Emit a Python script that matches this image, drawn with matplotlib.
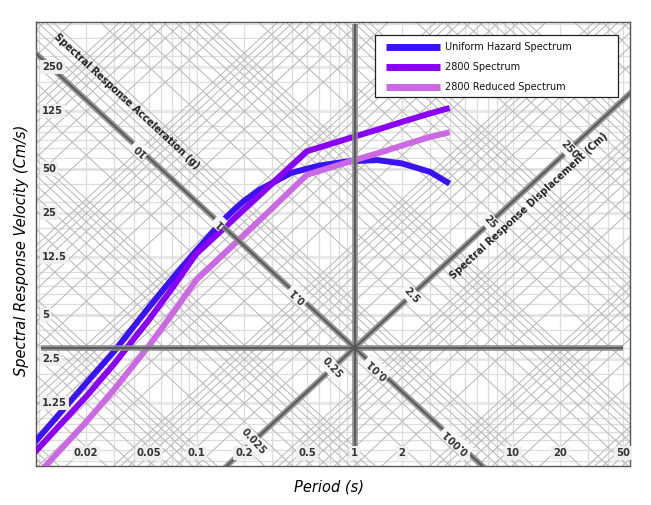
import numpy as np
import matplotlib.pyplot as plt
from matplotlib.patches import Rectangle

# spectra: period (s), spectral velocity (cm/s)
period = [0.0095, 0.02, 0.03, 0.05, 0.07, 0.1, 0.2, 0.3, 0.4, 0.5, 0.7, 1.0, 1.5, 2.0, 3.0, 4.0]
vel_2800 = [0.58, 1.39, 2.32, 4.67, 7.66, 13.3, 26.7, 40.0, 53.4, 66.7, 74.6, 84.0, 96.0, 106.0, 121.0, 132.0]
vel_2800_red = [0.39, 0.93, 1.55, 3.1, 5.1, 8.8, 17.8, 27.0, 36.5, 46.0, 51.5, 58.0, 66.0, 73.0, 83.5, 90.0]

period_uhs = [0.0095, 0.02, 0.03, 0.05, 0.07, 0.1, 0.15, 0.18, 0.2, 0.25, 0.3, 0.4, 0.6, 0.9, 1.4, 2.0, 3.0, 4.0]
vel_uhs = [0.68, 1.72, 2.83, 5.7, 8.9, 14.0, 22.9, 27.6, 30.5, 36.3, 40.3, 47.5, 53.2, 56.8, 58.0, 55.0, 48.2, 40.0]

series = ['Uniform Hazard Spectrum', '2800 Spectrum', '2800 Reduced Spectrum']
colors = ['#3b12f5', '#8a00f7', '#cb68e3']

x_ticks = [0.02, 0.05, 0.1, 0.2, 0.5, 1, 2, 5, 10, 20, 50]
x_tick_labels = ['0.02', '0.05', '0.1', '0.2', '0.5', '1', '2', '5', '10', '20', '50']
y_ticks = [250, 125, 50, 25, 12.5, 5, 2.5, 1.25]
y_tick_labels = ['250', '125', '50', '25', '12.5', '5', '2.5', '1.25']
acc_ticks = [10, 1, 0.1, 0.01, 0.001]
acc_tick_labels = ['10', '1', '0.1', '0.01', '0.001']
disp_ticks = [0.025, 0.25, 2.5, 25, 250]
disp_tick_labels = ['0.025', '0.25', '2.5', '25', '250']

g = 981.0      # cm/s2
t_c, v_c = 1.0, 3.0   # crossing point of the heavy axes

W, H = 651, 505
fig = plt.figure(figsize=(W / 100, H / 100), dpi=100)
ax = fig.add_axes([36 / W, 39 / H, 594 / W, 444 / H])
ax.set_xscale('log')
ax.set_yscale('log')
ax.set_xlim(0.00964, 55.4)
ax.set_ylim(0.4656, 512)
ax.set_xticks([])
ax.set_yticks([])
ax.minorticks_off()
for s in ax.spines.values():
    s.set_color('#555555')
    s.set_linewidth(1.0)

# light grid
vals = [m * 10.0 ** e for e in range(-3, 3) for m in range(1, 10)]
for t in vals:
    ax.axvline(t, color='#dcdcdc', lw=0.9, zorder=1)
for v in [m * 10.0 ** e for e in range(-1, 3) for m in range(1, 10)]:
    ax.axhline(v, color='#dedede', lw=0.9, zorder=1)
for v in y_ticks:
    ax.axhline(v, color='#e8e8e8', lw=2.2, zorder=0.9)

# diagonal grid: constant acceleration and constant displacement
tl = np.array([1e-3, 1e3])
for e in range(-7, 4):
    for m in range(1, 10):
        a = m * 10.0 ** e
        ax.plot(tl, g * a * tl / (2 * np.pi), color='#bababa', lw=0.75, zorder=1.2)
for e in range(-5, 5):
    for m in range(1, 10):
        d = m * 10.0 ** e
        ax.plot(tl, 2 * np.pi * d / tl, color='#bababa', lw=0.75, zorder=1.2)

# spectra
ax.plot(period_uhs, vel_uhs, color=colors[0], lw=4.3, zorder=3, solid_capstyle='butt')
ax.plot(period, vel_2800, color=colors[1], lw=4.3, zorder=3, solid_capstyle='butt')
ax.plot(period, vel_2800_red, color=colors[2], lw=4.3, zorder=3, solid_capstyle='butt')


def heavy(x, y, **kw):
    ax.plot(x, y, color='#8c8c8c', lw=4.2, alpha=0.85, zorder=4, solid_capstyle='butt', **kw)
    ax.plot(x, y, color='#555555', lw=1.6, alpha=0.9, zorder=4.1, solid_capstyle='butt', **kw)


heavy([0.0104, 50], [v_c, v_c])
heavy([t_c, t_c], [0.63, 500])
heavy(tl, v_c * t_c / tl)
heavy(tl, v_c * tl / t_c)


def screen_angle(p, q):
    a = ax.transData.transform(p)
    b = ax.transData.transform(q)
    return np.degrees(np.arctan2(b[1] - a[1], b[0] - a[0]))


ang_acc = screen_angle((1, 3), (10, 0.3))
ang_disp = screen_angle((1, 3), (10, 30))

tick_style = dict(fontsize=7.2, fontweight='bold', color='#333333', zorder=6)

for t, lab in zip(x_ticks, x_tick_labels):
    ax.text(t, 0.029, lab, transform=ax.get_xaxis_transform(), ha='center', va='center',
            bbox=dict(boxstyle='square,pad=0.2', fc='#efefef', ec='none'), **tick_style)
for v, lab in zip(y_ticks, y_tick_labels):
    ax.text(0.01, v, lab, transform=ax.get_yaxis_transform(), ha='left', va='center',
            bbox=dict(boxstyle='square,pad=0.2', fc='#efefef', ec='none'), **tick_style)

a_c = 2 * np.pi * v_c / (g * t_c)
for a, lab in zip(acc_ticks, acc_tick_labels):
    t = t_c * np.sqrt(a_c / a)
    ax.text(t, v_c * t_c / t, lab, ha='center', va='center', rotation=ang_acc + 180,
            rotation_mode='anchor',
            bbox=dict(boxstyle='square,pad=0.2', fc='#f7f7f7', ec='none'), **tick_style)

d_c = v_c * t_c / (2 * np.pi)
for d, lab in zip(disp_ticks, disp_tick_labels):
    t = t_c * np.sqrt(d / d_c)
    ax.text(t, v_c * t / t_c, lab, ha='center', va='center', rotation=ang_disp - 90,
            rotation_mode='anchor',
            bbox=dict(boxstyle='square,pad=0.2', fc='#f7f7f7', ec='none'), **tick_style)

fig.text(126.5 / W, 1 - 101 / H, 'Spectral Response Acceleration (g)', rotation=ang_acc,
         ha='center', va='center', rotation_mode='anchor', fontsize=7, fontweight='bold',
         color='#222222', zorder=6)
fig.text(529 / W, 1 - 206 / H, 'Spectral Response Displacement (Cm)', rotation=ang_disp,
         ha='center', va='center', rotation_mode='anchor', fontsize=7, fontweight='bold',
         color='#222222', zorder=6)

fig.text(22 / W, 1 - 250 / H, 'Spectral Response Velocity (Cm/s)', rotation=90,
         ha='center', va='center', fontsize=10.5, fontstyle='italic')
fig.text(329 / W, 1 - 487 / H, 'Period (s)', ha='center', va='center',
         fontsize=10.5, fontstyle='italic')

# legend box drawn by hand
fig.add_artist(Rectangle((375 / W, 1 - 97 / H), 243 / W, 62 / H, transform=fig.transFigure,
                         fc='white', ec='#222222', lw=0.9, zorder=10))
for i, (name, c) in enumerate(zip(series, colors)):
    y = 1 - (47 + 20 * i) / H
    fig.add_artist(plt.Line2D([386 / W, 440 / W], [y, y], transform=fig.transFigure,
                              color=c, lw=5, solid_capstyle='butt', zorder=11))
    fig.text(445 / W, y, name, ha='left', va='center', fontsize=7, color='#111111', zorder=11)

fig.savefig('out.png', dpi=100)
